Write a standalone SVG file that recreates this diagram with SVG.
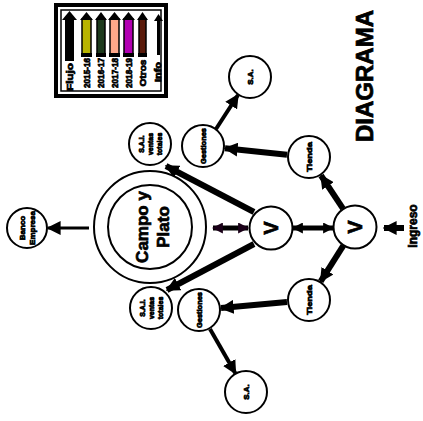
<svg xmlns="http://www.w3.org/2000/svg" width="423" height="421" viewBox="0 0 423 421">
<style>
.n{fill:#fff;stroke:#000;stroke-width:2}
.t{font-family:"Liberation Sans",Arial,sans-serif;font-weight:bold;fill:#000;stroke:#000;stroke-width:0.7;text-anchor:middle;dominant-baseline:central}
.c{fill:none;stroke:#000;stroke-linecap:butt}
.th{stroke-width:6;marker-end:url(#ah)}
.lg{stroke:#000;stroke-width:1.5}
</style>
<defs>
<marker id="ah" viewBox="0 0 10 10" refX="9" refY="5" markerWidth="14" markerHeight="14" markerUnits="userSpaceOnUse" orient="auto"><path d="M0,0 L10,5 L0,10 z" fill="#000"/></marker>
<marker id="ahs" viewBox="0 0 10 10" refX="9" refY="5" markerWidth="11" markerHeight="11" markerUnits="userSpaceOnUse" orient="auto-start-reverse"><path d="M0,0 L10,5 L0,10 z" fill="#000"/></marker>
<marker id="ahp" viewBox="0 0 10 10" refX="9" refY="5" markerWidth="11" markerHeight="11" markerUnits="userSpaceOnUse" orient="auto-start-reverse"><path d="M0,0 L10,5 L0,10 z" fill="#1a0018"/></marker>
</defs>
<rect width="423" height="421" fill="#fff"/>

<g id="legend">
<rect x="56" y="5" width="110" height="91" fill="#fff" stroke="#000" stroke-width="4"/>
<rect x="61" y="10" width="100" height="81" fill="none" stroke="#000" stroke-width="1.5"/>
<g>
<rect x="65" y="19" width="9" height="42" fill="#000"/><path d="M62,20 L69.5,11 L77,20 z" fill="#000"/>
<rect x="82" y="19" width="9" height="36" fill="#b8b400" class="lg"/><path d="M80,20 L86.5,12 L93,20 z" fill="#000"/><rect x="81" y="53" width="11" height="4" fill="#000"/>
<rect x="97" y="19" width="8" height="36" fill="#1c3a1c" class="lg"/><path d="M95,20 L101,12 L107,20 z" fill="#000"/><rect x="96" y="53" width="10" height="4" fill="#000"/>
<rect x="110" y="19" width="9" height="36" fill="#ffa88a" class="lg"/><path d="M108,20 L114.5,12 L121,20 z" fill="#000"/><rect x="109" y="53" width="11" height="4" fill="#000"/>
<rect x="124" y="19" width="9" height="36" fill="#b200b2" class="lg"/><path d="M122,20 L128.5,12 L135,20 z" fill="#000"/><rect x="123" y="53" width="11" height="4" fill="#000"/>
<rect x="139" y="19" width="7" height="36" fill="#5a1a0a" class="lg"/><path d="M137,20 L142.5,12 L148,20 z" fill="#000"/><rect x="138" y="53" width="9" height="4" fill="#000"/>
<rect x="157" y="20" width="3" height="35" fill="#000"/><path d="M154,21 L158.5,14 L163,21 z" fill="#000"/>
</g>
<g class="t" font-size="9">
<text transform="translate(70,77) rotate(-90)" textLength="28" lengthAdjust="spacingAndGlyphs">Flujo</text>
<text transform="translate(87,73) rotate(-90)" textLength="30" lengthAdjust="spacingAndGlyphs">2015-16</text>
<text transform="translate(101,73) rotate(-90)" textLength="30" lengthAdjust="spacingAndGlyphs">2016-17</text>
<text transform="translate(115,73) rotate(-90)" textLength="30" lengthAdjust="spacingAndGlyphs">2017-18</text>
<text transform="translate(129,73) rotate(-90)" textLength="30" lengthAdjust="spacingAndGlyphs">2018-19</text>
<text transform="translate(143,73) rotate(-90)" textLength="27" lengthAdjust="spacingAndGlyphs">Otros</text>
<text transform="translate(158,72) rotate(-90)" textLength="20" lengthAdjust="spacingAndGlyphs">Info</text>
</g>
</g>

<g id="title"><text class="t" font-size="24" stroke-width="1.6" transform="translate(364,76) rotate(-90)">DIAGRAMA</text></g>

<g id="connectors">
<line class="c th" x1="404" y1="228" x2="384" y2="228"/>
<line class="c" x1="333" y1="228" x2="293" y2="228" stroke-width="5" marker-start="url(#ahs)" marker-end="url(#ahs)"/>
<line class="c th" x1="343" y1="208.6" x2="321" y2="175.5"/>
<line class="c th" x1="343.3" y1="245.6" x2="320.7" y2="281.4"/>
<line class="c th" x1="287" y1="154.7" x2="225" y2="148.3"/>
<line class="c th" x1="287" y1="302" x2="221" y2="308"/>
<line class="c" x1="216" y1="129" x2="238" y2="95" stroke-width="4" marker-end="url(#ah)"/>
<line class="c" x1="210" y1="329" x2="235.5" y2="373.5" stroke-width="4" marker-end="url(#ah)"/>
<line class="c th" x1="254" y1="212" x2="166" y2="166" stroke="#1a0500"/>
<line class="c th" x1="254" y1="244" x2="167" y2="290" stroke="#1a0500"/>
<line class="c" x1="213" y1="228" x2="248" y2="228" stroke="#1a0018" stroke-width="5" marker-start="url(#ahp)" marker-end="url(#ahp)"/>
<line class="c" x1="89" y1="228" x2="48" y2="228" stroke-width="3" marker-end="url(#ah)"/>
</g>

<g id="ingreso"><text class="t" font-size="12" transform="translate(413,226) rotate(-90)">Ingreso</text></g>

<g id="v-right"><circle class="n" cx="355" cy="227" r="21.5"/><text class="t" font-size="20" transform="translate(355,227) rotate(-90)">V</text></g>
<g id="v-mid"><circle class="n" cx="271" cy="228" r="21.5"/><text class="t" font-size="20" transform="translate(271,228) rotate(-90)">V</text></g>

<g id="tienda-top"><circle class="n" cx="309" cy="157" r="21"/><text class="t" font-size="8" transform="translate(309,157) rotate(-90)" textLength="30" lengthAdjust="spacingAndGlyphs">Tienda</text></g>
<g id="tienda-bottom"><circle class="n" cx="309" cy="300" r="21"/><text class="t" font-size="8" transform="translate(309,300) rotate(-90)" textLength="30" lengthAdjust="spacingAndGlyphs">Tienda</text></g>

<g id="gestor-top"><circle class="n" cx="203" cy="146" r="21"/><text class="t" font-size="7" transform="translate(203,146) rotate(-90)" textLength="36" lengthAdjust="spacingAndGlyphs">Gestiones</text></g>
<g id="gestor-bottom"><circle class="n" cx="199" cy="310" r="21"/><text class="t" font-size="7" transform="translate(199,310) rotate(-90)" textLength="36" lengthAdjust="spacingAndGlyphs">Gestiones</text></g>

<g id="sai-top"><circle class="n" cx="150" cy="144" r="21"/>
<g class="t" font-size="7" transform="translate(150,144) rotate(-90)"><text x="0" y="-9">S.A.I.</text><text x="0" y="0">ventas</text><text x="0" y="9">totales</text></g></g>
<g id="sai-bottom"><circle class="n" cx="151" cy="308" r="21"/>
<g class="t" font-size="7" transform="translate(151,308) rotate(-90)"><text x="0" y="-9">S.A.I.</text><text x="0" y="0">ventas</text><text x="0" y="9">totales</text></g></g>

<g id="sa-top"><circle class="n" cx="250" cy="77" r="21"/><text class="t" font-size="8" transform="translate(250,77) rotate(-90)">S.A.</text></g>
<g id="sa-bottom"><circle class="n" cx="246" cy="392" r="21"/><text class="t" font-size="8" transform="translate(246,392) rotate(-90)">S.A.</text></g>

<g id="campo"><circle class="n" cx="150" cy="227" r="56"/><circle class="n" cx="150" cy="227" r="42"/>
<g class="t" font-size="17" stroke-width="1" transform="translate(150,227) rotate(-90)"><text x="0" y="-8">Campo y</text><text x="0" y="13">Plato</text></g></g>

<g id="banco"><circle class="n" cx="27" cy="228" r="20"/>
<g class="t" font-size="8" transform="translate(27,228) rotate(-90)"><text x="0" y="-5">Banco</text><text x="0" y="5">Empresa</text></g></g>
</svg>
